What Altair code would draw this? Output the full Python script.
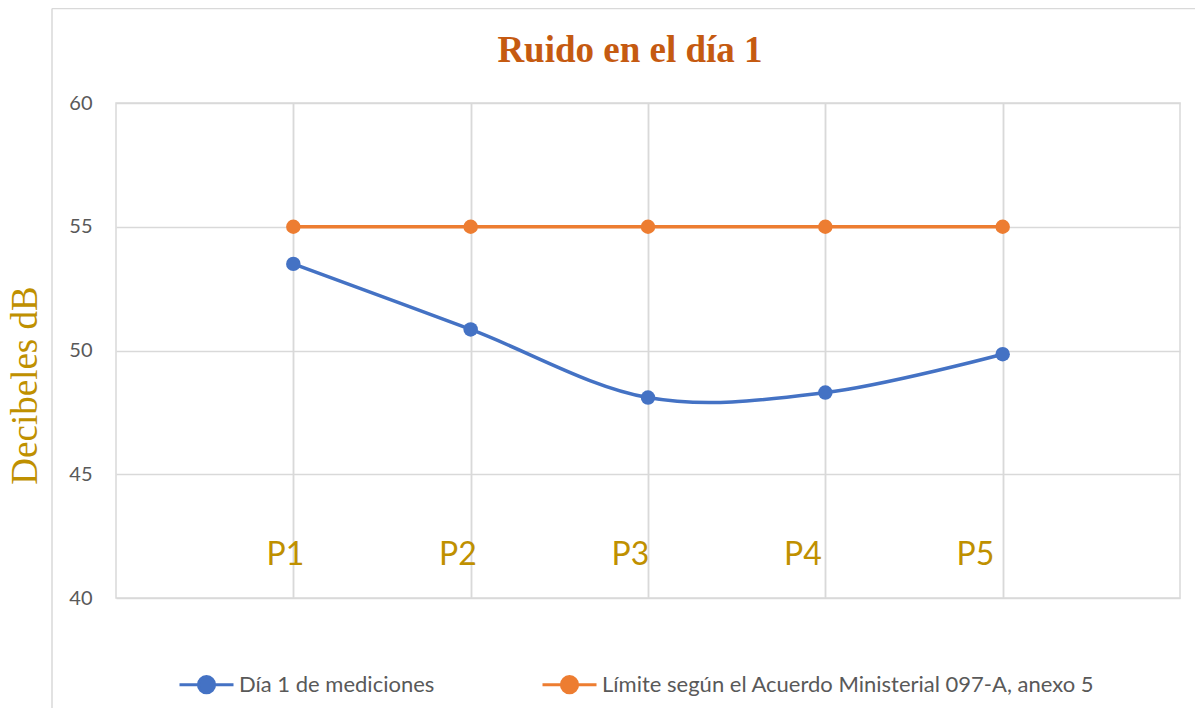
import altair as alt
import pandas as pd

title_text = "Ruido en el día 1"
categories = ["P1", "P2", "P3", "P4", "P5"]
positions = [1, 2, 3, 4, 5]
dia1 = [53.5, 50.85, 48.1, 48.3, 49.85]
limite = [55, 55, 55, 55, 55]
series_names = ["Día 1 de mediciones", "Límite según el Acuerdo Ministerial 097-A, anexo 5"]
colors = ["#4472C4", "#ED7D31"]
y_ticks = [40, 45, 50, 55, 60]

rows = []
for c, p, a, b in zip(categories, positions, dia1, limite):
    rows.append({"cat": c, "pos": p, "serie": series_names[0], "valor": a})
    rows.append({"cat": c, "pos": p, "serie": series_names[1], "valor": b})
df = pd.DataFrame(rows)
labels_df = pd.DataFrame({"cat": categories, "pos": positions})
one = pd.DataFrame({"k": [0]})
title_df = pd.DataFrame({"t": [title_text]})

GRID = "#d9d9d9"
SANS = "Lato"

x_enc = alt.X("pos:Q", scale=alt.Scale(domain=[0, 6], nice=False, zero=False),
              axis=alt.Axis(values=positions, labels=False, ticks=False, domain=False,
                            grid=True, gridColor=GRID, gridWidth=1.5, title=None))
y_enc = alt.Y("valor:Q", scale=alt.Scale(domain=[40, 60], nice=False, zero=False),
              axis=alt.Axis(values=y_ticks, ticks=False, domain=False, grid=True,
                            gridColor=GRID, gridWidth=1.5,
                            labelFont=SANS, labelFontSize=20, labelColor="#595959",
                            labelPadding=24,
                            title="Decibeles dB", titleFont="Liberation Serif",
                            titleFontSize=37, titleFontWeight="normal", titleColor="#BF9000",
                            titleAngle=-90, titleAlign="center", titleBaseline="middle",
                            titleX=-91, titleY=282))

sym_path = "M-1,0L-0.3,0M0.3,0L1,0M0.3,0A0.3,0.3,0,1,1,-0.3,0A0.3,0.3,0,1,1,0.3,0Z"
color_enc = alt.Color("serie:N", scale=alt.Scale(domain=series_names, range=colors),
                      legend=alt.Legend(orient="none", legendX=62, legendY=553,
                                        direction="horizontal", title=None,
                                        symbolType=sym_path, symbolSize=2916,
                                        symbolStrokeWidth=3, symbolOpacity=1,
                                        labelFont=SANS,
                                        labelFontSize=22, labelColor="#595959",
                                        labelOffset=4, columnPadding=101,
                                        labelLimit=700))

border_left = alt.Chart(one).mark_rule(color=GRID, strokeWidth=1.5).encode(
    x=alt.value(-64), y=alt.value(-94.5), y2=alt.value(630))
border_top = alt.Chart(one).mark_rule(color=GRID, strokeWidth=1.5).encode(
    x=alt.value(-64), x2=alt.value(1090), y=alt.value(-94.5))

title = alt.Chart(title_df).mark_text(font="Liberation Serif", fontSize=37, fontWeight="bold",
                                      color="#C55A11", align="center",
                                      baseline="alphabetic").encode(
    x=alt.value(514), y=alt.value(-41), text="t:N")

lines = alt.Chart(df).mark_line(interpolate="cardinal", tension=0, strokeWidth=3.5).encode(
    x=x_enc, y=y_enc, color=color_enc, detail="serie:N")
points = alt.Chart(df).mark_point(filled=True, size=210, opacity=1).encode(
    x=x_enc, y=y_enc, color=color_enc)
labels = alt.Chart(labels_df).mark_text(font=SANS, fontSize=32, color="#BF9000",
                                        baseline="middle", align="center").encode(
    x=alt.X("pos:Q", scale=alt.Scale(domain=[0.0174, 6.186], nice=False, zero=False),
            axis=None),
    y=alt.value(452), text="cat:N")

chart = alt.layer(border_left, border_top, title, lines, points, labels).resolve_scale(
    x="independent"
).properties(
    width=1064, height=495,
    autosize=alt.AutoSizeParams(type="none"),
    padding={"left": 108, "top": 95, "right": 15, "bottom": 110},
).configure_view(stroke=GRID, strokeWidth=1.5)

chart.save("out.html", embed_options={"renderer": "svg", "actions": False})
